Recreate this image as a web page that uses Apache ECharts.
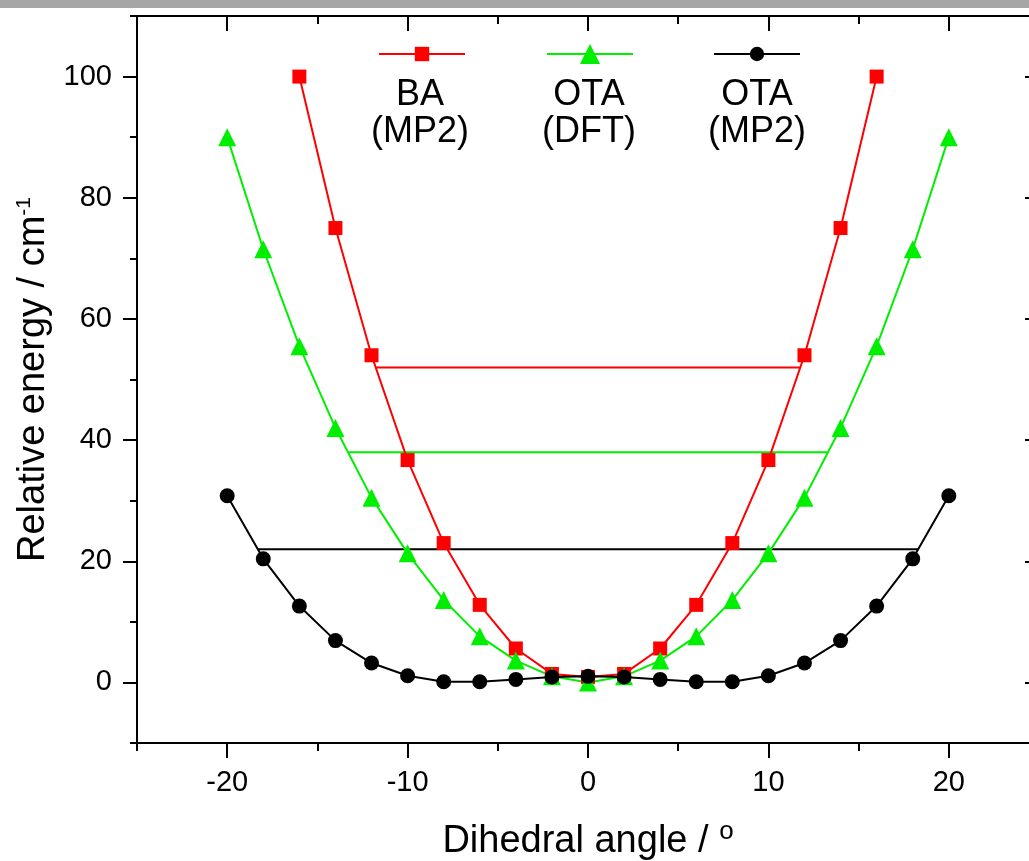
<!DOCTYPE html>
<html><head><meta charset="utf-8">
<script src="https://cdn.jsdelivr.net/npm/echarts@6/dist/echarts.min.js"></script>
<style>html,body{margin:0;padding:0;background:#fff}#c{width:1029px;height:861px}</style>
</head><body><div id="c"></div>
<script>
const FONT = 'Liberation Sans, Arial, sans-serif';
// Data
const baX = [-16,-14,-12,-10,-8,-6,-4,-2,0,2,4,6,8,10,12,14,16];
const baY = [100,75,54,36.7,23,12.8,5.6,1.4,0.9,1.4,5.6,12.8,23,36.7,54,75,100];
const otaDftX = [-20,-18,-16,-14,-12,-10,-8,-6,-4,-2,0,2,4,6,8,10,12,14,16,18,20];
const otaDftY = [90,71.5,55.5,42,30.5,21.3,13.6,7.6,3.6,1,0,1,3.6,7.6,13.6,21.3,30.5,42,55.5,71.5,90];
const otaMp2X = [-20,-18,-16,-14,-12,-10,-8,-6,-4,-2,0,2,4,6,8,10,12,14,16,18,20];
const otaMp2Y = [30.8,20.4,12.6,6.9,3.2,1.1,0.1,0.1,0.5,0.9,1.0,0.9,0.5,0.1,0.1,1.1,3.2,6.9,12.6,20.4,30.8];
// zero-point levels: [xStart, xEnd, energy]
const baLevel = [-11.8, 11.8, 52];
const otaDftLevel = [-13.25, 13.25, 38];
const otaMp2Level = [-18.3, 18.3, 22];
const seriesNames = ['BA (MP2)', 'OTA (DFT)', 'OTA (MP2)'];
const legendLines = [['BA','(MP2)'],['OTA','(DFT)'],['OTA','(MP2)']];
const xMajor = [-20,-10,0,10,20];
const xMinor = [-25,-15,-5,5,15,25];
const yMajor = [0,20,40,60,80,100];
const yMinor = [-10,10,30,50,70,90,110];

const RED = '#ff0000', GREEN = '#00ee00', BLACK = '#000000';
const zip = (xs, ys) => xs.map((x, i) => [x, ys[i]]);

const chart = echarts.init(document.getElementById('c'));
const gridBox = {left:137, top:16, width:902, height:727, outerBoundsMode:'none', containLabel:false};
function xAxisDef(pos, ticks, len, inside, showLine, showLabel, showName) {
  return {
    type:'value', position:pos, min:-25, max:25, gridIndex:0,
    axisLine:{show:showLine, onZero:false, lineStyle:{color:'#000', width:2}},
    axisTick:{show:true, customValues:ticks, length:len, inside:inside, lineStyle:{color:'#000', width:2}},
    axisLabel:{show:showLabel, customValues:xMajor, margin:25, fontSize:29, color:'#000', fontFamily:FONT},
    splitLine:{show:false},
    name: showName ? 'Dihedral angle / {sup|o}' : '',
    nameLocation:'middle', nameGap:76,
    nameTextStyle:{fontSize:38, color:'#000', fontFamily:FONT, rich:{sup:{fontSize:26, verticalAlign:'top', padding:[0,0,20,0], fontFamily:FONT, color:'#000'}}}
  };
}
function yAxisDef(pos, ticks, len, inside, showLine, showLabel, showName) {
  return {
    type:'value', position:pos, min:-10, max:110, gridIndex:0,
    axisLine:{show:showLine, onZero:false, lineStyle:{color:'#000', width:2}},
    axisTick:{show:true, customValues:ticks, length:len, inside:inside, lineStyle:{color:'#000', width:2}},
    axisLabel:{show:showLabel, customValues:yMajor, margin:25, fontSize:29, color:'#000', fontFamily:FONT},
    splitLine:{show:false},
    name: showName ? 'Relative energy / cm{sup|-1}' : '',
    nameLocation:'middle', nameGap:76,
    nameTextStyle:{fontSize:38, color:'#000', fontFamily:FONT, rich:{sup:{fontSize:21, verticalAlign:'top', padding:[0,0,20,0], fontFamily:FONT, color:'#000'}}}
  };
}
const lineSeries = (name, data, color, symbol, size) => ({
  name, type:'line', data, xAxisIndex:0, yAxisIndex:0,
  symbol, symbolSize:size, showSymbol:true,
  lineStyle:{color, width:2}, itemStyle:{color, borderWidth:0},
  clip:false, animation:false, z:3
});
const levelSeries = (lvl, color) => ({
  type:'line', data:[[lvl[0], lvl[2]],[lvl[1], lvl[2]]], xAxisIndex:0, yAxisIndex:0,
  symbol:'none', lineStyle:{color, width:2}, animation:false, z:2, silent:true
});

const legendX = [378, 546, 713];
const legendCenters = [420, 589, 757];
const legendIconH = [18, 25, 18];
const legends = seriesNames.map((n, i) => ({
  data:[n], left:legendX[i], top:54 - legendIconH[i] / 2, itemWidth:86, itemHeight:legendIconH[i],
  formatter:() => '', textStyle:{fontSize:1}, selectedMode:false, padding:0, itemGap:0
}));
const graphics = [
  {type:'rect', left:0, top:0, shape:{width:1029, height:8}, style:{fill:'#a6a6a6'}, z:100}
];
legendLines.forEach((ls, i) => {
  graphics.push({type:'text', x:legendCenters[i], y:77, style:{text:ls[0], font:'36px ' + FONT, fill:'#000', align:'center', verticalAlign:'top'}});
  graphics.push({type:'text', x:legendCenters[i], y:114, style:{text:ls[1], font:'36px ' + FONT, fill:'#000', align:'center', verticalAlign:'top'}});
});

chart.setOption({
  animation:false,
  backgroundColor:'#fff',
  grid:[gridBox],
  xAxis:[
    xAxisDef('bottom', xMajor, 15, false, true, true, true),
    xAxisDef('bottom', xMinor, 8, false, false, false, false),
    xAxisDef('top', xMajor, 15, true, true, false, false),
    xAxisDef('top', xMinor, 8, true, false, false, false)
  ],
  yAxis:[
    yAxisDef('left', yMajor, 14, false, true, true, true),
    yAxisDef('left', yMinor, 7, false, false, false, false),
    yAxisDef('right', yMajor, 14, true, true, false, false),
    yAxisDef('right', yMinor, 7, true, false, false, false)
  ],
  legend:legends,
  graphic:graphics,
  series:[
    levelSeries(baLevel, RED),
    levelSeries(otaDftLevel, GREEN),
    levelSeries(otaMp2Level, BLACK),
    lineSeries(seriesNames[0], zip(baX, baY), RED, 'rect', 14),
    lineSeries(seriesNames[1], zip(otaDftX, otaDftY), GREEN, 'triangle', 18),
    lineSeries(seriesNames[2], zip(otaMp2X, otaMp2Y), BLACK, 'circle', 15)
  ]
});
</script></body></html>
